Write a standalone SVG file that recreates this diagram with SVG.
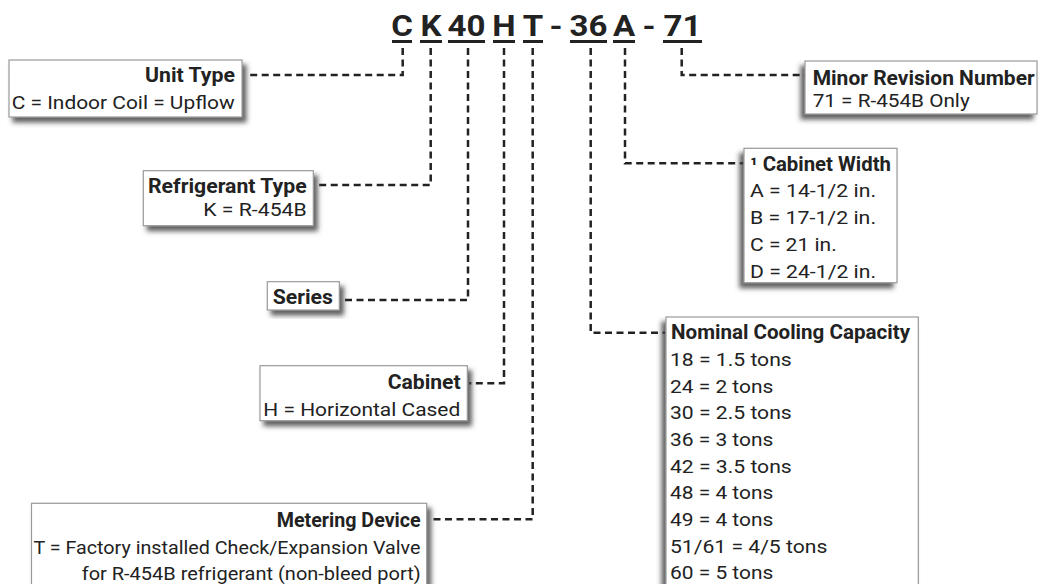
<svg xmlns="http://www.w3.org/2000/svg" width="1041" height="584" viewBox="0 0 1041 584">
<style>
.box{fill:#fff;stroke:#9a9a9a;stroke-width:1.2}
.t{font-family:Roboto,"Liberation Sans",sans-serif;font-size:18.7px;fill:#222}
.b{font-family:Roboto,"Liberation Sans",sans-serif;font-size:19.3px;font-weight:bold;fill:#222}
.h{font-family:Roboto,"Liberation Sans",sans-serif;font-size:29.5px;font-weight:bold;fill:#222;text-anchor:middle}
.e{text-anchor:end}
.conn{fill:none;stroke:#222;stroke-width:2.5;stroke-dasharray:7 4.5}
.ul{fill:#222}
</style>
<defs>
<filter id="shR" x="-20%" y="-20%" width="140%" height="150%"><feDropShadow dx="4" dy="5" stdDeviation="2.5" flood-color="#444" flood-opacity="0.85"/></filter>
<filter id="shL" x="-20%" y="-20%" width="140%" height="150%"><feDropShadow dx="-4" dy="5" stdDeviation="2.5" flood-color="#444" flood-opacity="0.85"/></filter>
</defs>
<rect width="1041" height="584" fill="#fff"/>

<g id="model-code">
<text class="h" transform="translate(402,36) scale(1.12,1)">C</text>
<text class="h" transform="translate(431,36) scale(1.12,1)">K</text>
<text class="h" transform="translate(466.5,36) scale(1.12,1)">40</text>
<text class="h" transform="translate(504,36) scale(1.12,1)">H</text>
<text class="h" transform="translate(533,36) scale(1.12,1)">T</text>
<text class="h" transform="translate(556,36) scale(1.12,1)">-</text>
<text class="h" transform="translate(588.5,36) scale(1.12,1)">36</text>
<text class="h" transform="translate(624,36) scale(1.12,1)">A</text>
<text class="h" transform="translate(649,36) scale(1.12,1)">-</text>
<text class="h" transform="translate(682.5,36) scale(1.12,1)">71</text>
<rect class="ul" x="392" y="40" width="20" height="3"/>
<rect class="ul" x="420" y="40" width="22" height="3"/>
<rect class="ul" x="448" y="40" width="37" height="3"/>
<rect class="ul" x="493" y="40" width="22" height="3"/>
<rect class="ul" x="523" y="40" width="20" height="3"/>
<rect class="ul" x="570" y="40" width="37" height="3"/>
<rect class="ul" x="613" y="40" width="22" height="3"/>
<rect class="ul" x="663" y="40" width="39" height="3"/>
</g>

<g id="connectors">
<path class="conn" d="M402.7,48 V75 H248"/>
<path class="conn" d="M430.7,48 V185 H315"/>
<path class="conn" d="M468,48 V300 H345"/>
<path class="conn" d="M504,48 V383.3 H469"/>
<path class="conn" d="M532.7,48 V519.3 H432"/>
<path class="conn" d="M590.7,48 V332.7 H666"/>
<path class="conn" d="M625,48 V163.3 H744"/>
<path class="conn" d="M681.7,48 V75 H805"/>
</g>

<g id="unit-type">
<rect class="box" x="9" y="60" width="233" height="57" filter="url(#shR)"/>
<text class="b e" x="235" y="81.7" textLength="90" lengthAdjust="spacingAndGlyphs">Unit Type</text>
<text class="t" x="11.7" y="109" textLength="223" lengthAdjust="spacingAndGlyphs">C = Indoor Coil = Upflow</text>
</g>

<g id="minor-revision">
<rect class="box" x="805" y="61" width="232" height="53" filter="url(#shL)"/>
<text class="b" x="812.7" y="85" textLength="222" lengthAdjust="spacingAndGlyphs">Minor Revision Number</text>
<text class="t" x="812.7" y="106.7" textLength="157" lengthAdjust="spacingAndGlyphs">71 = R-454B Only</text>
</g>

<g id="refrigerant-type">
<rect class="box" x="143.3" y="170.7" width="170" height="55" filter="url(#shR)"/>
<text class="b" x="148" y="193" textLength="158.7" lengthAdjust="spacingAndGlyphs">Refrigerant Type</text>
<text class="t e" x="306.7" y="216" textLength="103.4" lengthAdjust="spacingAndGlyphs">K = R-454B</text>
</g>

<g id="series">
<rect class="box" x="267.3" y="281.7" width="72" height="28.3" filter="url(#shR)"/>
<text class="b" x="272.7" y="304.3" textLength="60.3" lengthAdjust="spacingAndGlyphs">Series</text>
</g>

<g id="cabinet">
<rect class="box" x="260" y="365.7" width="207.3" height="55" filter="url(#shR)"/>
<text class="b e" x="460.7" y="389" textLength="73" lengthAdjust="spacingAndGlyphs">Cabinet</text>
<text class="t" x="263.3" y="415.7" textLength="197" lengthAdjust="spacingAndGlyphs">H = Horizontal Cased</text>
</g>

<g id="metering-device">
<rect class="box" x="31.5" y="503.3" width="395.2" height="100" filter="url(#shR)"/>
<text class="b e" x="420.7" y="526.5" textLength="144" lengthAdjust="spacingAndGlyphs">Metering Device</text>
<text class="t" x="33.5" y="553.5" textLength="387" lengthAdjust="spacingAndGlyphs">T = Factory installed Check/Expansion Valve</text>
<text class="t e" x="420.7" y="579.5" textLength="339" lengthAdjust="spacingAndGlyphs">for R-454B refrigerant (non-bleed port)</text>
</g>

<g id="cabinet-width">
<rect class="box" x="744" y="148.3" width="153" height="134.4" filter="url(#shL)"/>
<text class="b" x="750" y="170.7" textLength="141" lengthAdjust="spacingAndGlyphs">¹ Cabinet Width</text>
<text class="t" x="750" y="197.3" textLength="126" lengthAdjust="spacingAndGlyphs">A = 14-1/2 in.</text>
<text class="t" x="750" y="224" textLength="126" lengthAdjust="spacingAndGlyphs">B = 17-1/2 in.</text>
<text class="t" x="750" y="251" textLength="86.7" lengthAdjust="spacingAndGlyphs">C = 21 in.</text>
<text class="t" x="750" y="277.7" textLength="126" lengthAdjust="spacingAndGlyphs">D = 24-1/2 in.</text>
</g>

<g id="nominal-cooling-capacity">
<rect class="box" x="666" y="317" width="252.3" height="290" filter="url(#shL)"/>
<text class="b" x="671" y="339.3" textLength="239" lengthAdjust="spacingAndGlyphs">Nominal Cooling Capacity</text>
<text class="t" x="670" y="365.9" textLength="121.7" lengthAdjust="spacingAndGlyphs">18 = 1.5 tons</text>
<text class="t" x="670" y="392.6" textLength="103.3" lengthAdjust="spacingAndGlyphs">24 = 2 tons</text>
<text class="t" x="670" y="419.2" textLength="121.7" lengthAdjust="spacingAndGlyphs">30 = 2.5 tons</text>
<text class="t" x="670" y="445.9" textLength="103.3" lengthAdjust="spacingAndGlyphs">36 = 3 tons</text>
<text class="t" x="670" y="472.5" textLength="121.7" lengthAdjust="spacingAndGlyphs">42 = 3.5 tons</text>
<text class="t" x="670" y="499.2" textLength="103.3" lengthAdjust="spacingAndGlyphs">48 = 4 tons</text>
<text class="t" x="670" y="525.8" textLength="103.3" lengthAdjust="spacingAndGlyphs">49 = 4 tons</text>
<text class="t" x="670" y="552.5" textLength="157.3" lengthAdjust="spacingAndGlyphs">51/61 = 4/5 tons</text>
<text class="t" x="670" y="579.1" textLength="103.3" lengthAdjust="spacingAndGlyphs">60 = 5 tons</text>
</g>
</svg>
